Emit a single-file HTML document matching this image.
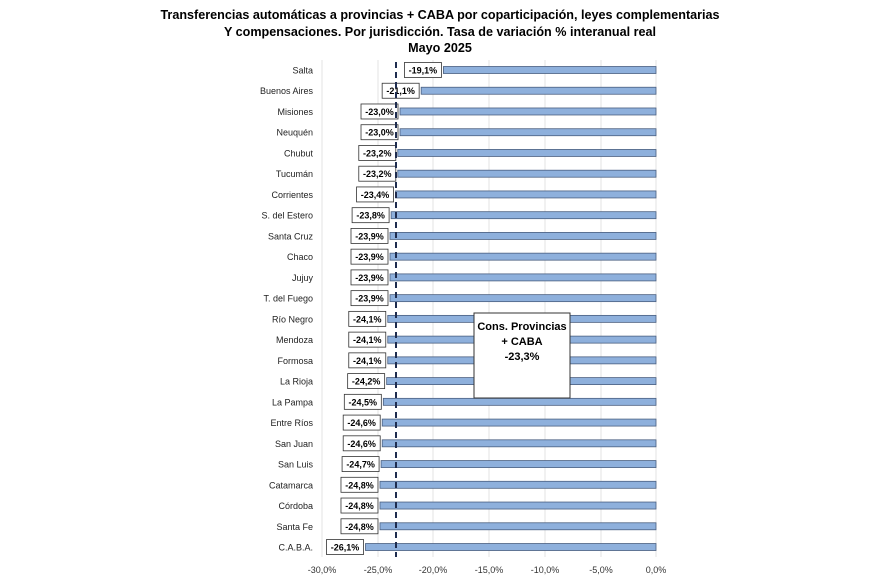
<!DOCTYPE html>
<html><head><meta charset="utf-8"><style>
body{margin:0;background:#fff;width:870px;height:580px;overflow:hidden}
svg{font-family:"Liberation Sans",sans-serif}
</style></head><body>
<svg width="870" height="580" xmlns="http://www.w3.org/2000/svg">
<g font-weight="bold" font-size="12.6" text-anchor="middle" fill="#000">
<text x="440" y="19">Transferencias  automáticas  a provincias  + CABA por coparticipación,  leyes complementarias</text>
<text x="440" y="36">Y compensaciones.  Por jurisdicción.  Tasa de variación  % interanual  real</text>
<text x="440" y="52">Mayo  2025</text>
</g>
<g stroke="#e3e3e3" stroke-width="1">
<line x1="322" y1="60" x2="322" y2="557"/><line x1="378" y1="60" x2="378" y2="557"/>
<line x1="433" y1="60" x2="433" y2="557"/><line x1="489" y1="60" x2="489" y2="557"/>
<line x1="545" y1="60" x2="545" y2="557"/><line x1="601" y1="60" x2="601" y2="557"/>
<line x1="656" y1="60" x2="656" y2="557"/>
</g>
<g font-size="9" fill="#333" text-anchor="middle">
<text x="322" y="573">-30,0%</text><text x="378" y="573">-25,0%</text><text x="433" y="573">-20,0%</text>
<text x="489" y="573">-15,0%</text><text x="545" y="573">-10,0%</text><text x="601" y="573">-5,0%</text><text x="656" y="573">0,0%</text>
</g>
<g id="bars"></g>
<line x1="396" y1="62" x2="396" y2="557" stroke="#1f2d4f" stroke-width="2" stroke-dasharray="6,4"/>
<rect x="474" y="313" width="96" height="85" fill="#fff" stroke="#333" stroke-width="1"/>
<g font-size="11" font-weight="bold" text-anchor="middle">
<text x="522" y="330">Cons. Provincias</text><text x="522" y="345">+ CABA</text><text x="522" y="360">-23,3%</text>
</g>
</svg>
<script>
var d=[["Salta",19.1],["Buenos Aires",21.1],["Misiones",23.0],["Neuquén",23.0],["Chubut",23.2],["Tucumán",23.2],["Corrientes",23.4],["S. del Estero",23.8],["Santa Cruz",23.9],["Chaco",23.9],["Jujuy",23.9],["T. del Fuego",23.9],["Río Negro",24.1],["Mendoza",24.1],["Formosa",24.1],["La Rioja",24.2],["La Pampa",24.5],["Entre Ríos",24.6],["San Juan",24.6],["San Luis",24.7],["Catamarca",24.8],["Córdoba",24.8],["Santa Fe",24.8],["C.A.B.A.",26.1]];
var s="";
d.forEach(function(r,i){var y=70+i*20.74,x=656-r[1]*11.13;
var lab=r[1].toFixed(1).replace(".",",");
s+='<text x="313" y="'+(y+3.5)+'" font-size="9" text-anchor="end" fill="#222">'+r[0]+'</text>';
s+='<rect x="'+x+'" y="'+(y-3.5)+'" width="'+(656-x)+'" height="7" fill="#8eb0dc" stroke="#4a5f80" stroke-width="0.8"/>';
s+='<rect x="'+(x-39)+'" y="'+(y-7.5)+'" width="37" height="15" fill="#fff" stroke="#333" stroke-width="0.8"/>';
s+='<text x="'+(x-20.5)+'" y="'+(y+3.5)+'" font-size="9" font-weight="bold" text-anchor="middle">-'+lab+'%</text>';});
document.getElementById("bars").innerHTML=s;
</script>
</body></html>
